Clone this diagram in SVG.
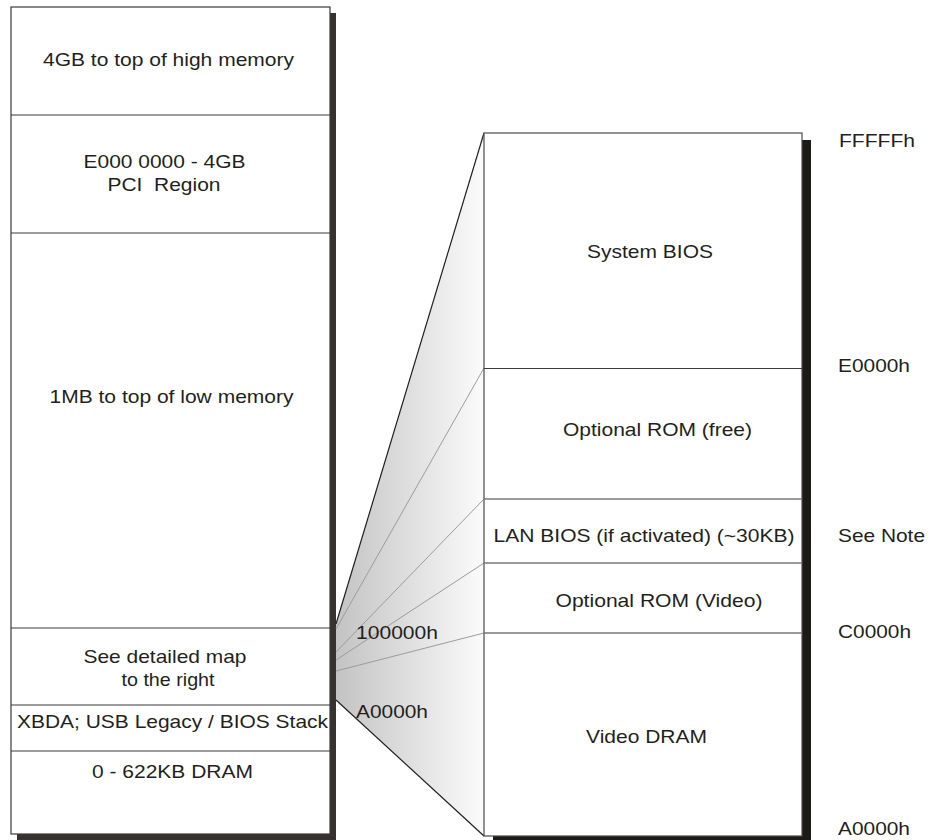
<svg xmlns="http://www.w3.org/2000/svg" width="929" height="840" viewBox="0 0 929 840">
<style>
text{font-family:"Liberation Sans",Arial,sans-serif;font-size:18.5px;fill:#231f20}
.c{text-anchor:middle}
.div{stroke:#3a3a3a;stroke-width:1.2}
.rdiv{stroke:#7a7a7a;stroke-width:1.5}
.fan{stroke:#9c9c9c;stroke-width:1;fill:none}
.edge{stroke:#231f20;stroke-width:1.2;fill:none}
</style>
<defs>
<linearGradient id="fg" x1="336" y1="0" x2="484" y2="0" gradientUnits="userSpaceOnUse">
<stop offset="0" stop-color="#c3c3c3"/>
<stop offset="1" stop-color="#fbfbfb"/>
</linearGradient>
</defs>
<rect width="929" height="840" fill="#fff"/>

<g id="left-map">
<rect x="17" y="13" width="319" height="827" fill="#37322f"/>
<rect x="11" y="7" width="319" height="827" fill="#fff" stroke="#3a3a3a" stroke-width="1.2"/>
</g>
<g id="high-memory">
<text class="c" x="168.5" y="66" textLength="251" lengthAdjust="spacingAndGlyphs">4GB to top of high memory</text>
<line class="div" x1="11" y1="115" x2="330" y2="115"/>
</g>
<g id="pci-region">
<text class="c" x="164.5" y="168" textLength="162" lengthAdjust="spacingAndGlyphs">E000 0000 - 4GB</text>
<text class="c" x="164" y="191" textLength="113" lengthAdjust="spacingAndGlyphs" xml:space="preserve">PCI  Region</text>
<line class="div" x1="11" y1="233" x2="330" y2="233"/>
</g>
<g id="low-memory">
<text class="c" x="171.5" y="403" textLength="244" lengthAdjust="spacingAndGlyphs">1MB to top of low memory</text>
<line class="div" x1="11" y1="628" x2="330" y2="628"/>
</g>
<g id="detailed-map">
<text class="c" x="165" y="663" textLength="163" lengthAdjust="spacingAndGlyphs">See detailed map</text>
<text class="c" x="168" y="686" textLength="93" lengthAdjust="spacingAndGlyphs">to the right</text>
<line class="div" x1="11" y1="705" x2="330" y2="705"/>
</g>
<g id="xbda">
<text x="17" y="728" textLength="311" lengthAdjust="spacingAndGlyphs">XBDA; USB Legacy / BIOS Stack</text>
<line class="div" x1="11" y1="751" x2="330" y2="751"/>
</g>
<g id="dram">
<text class="c" x="172.5" y="778" textLength="161" lengthAdjust="spacingAndGlyphs">0 - 622KB DRAM</text>
</g>

<g id="connectors">
<polygon points="336,624 484,133 484,836 336,700" fill="url(#fg)"/>
<line class="fan" x1="336" y1="629" x2="484" y2="368"/>
<line class="fan" x1="336" y1="652" x2="484" y2="499"/>
<line class="fan" x1="336" y1="660" x2="484" y2="563"/>
<line class="fan" x1="336" y1="671" x2="484" y2="633"/>
<line class="edge" x1="336" y1="624" x2="484" y2="133"/>
<line class="edge" x1="336" y1="700" x2="484" y2="836"/>
<text x="356" y="639" textLength="82" lengthAdjust="spacingAndGlyphs">100000h</text>
<text x="356" y="718" textLength="72" lengthAdjust="spacingAndGlyphs">A0000h</text>
</g>

<g id="right-map">
<rect x="493" y="140" width="318" height="703" fill="#1c1a17"/>
<rect x="484" y="133" width="318" height="703" fill="#fff" stroke="#4a4a4a" stroke-width="1.2"/>
</g>
<g id="system-bios">
<text class="c" x="650" y="258" textLength="126" lengthAdjust="spacingAndGlyphs">System BIOS</text>
<line class="div" x1="484" y1="368.5" x2="802" y2="368.5"/>
</g>
<g id="optional-rom-free">
<text class="c" x="657.5" y="436" textLength="189" lengthAdjust="spacingAndGlyphs">Optional ROM (free)</text>
<line class="rdiv" x1="484" y1="499" x2="802" y2="499"/>
</g>
<g id="lan-bios">
<text class="c" x="644" y="542" textLength="301" lengthAdjust="spacingAndGlyphs">LAN BIOS (if activated) (~30KB)</text>
<line class="rdiv" x1="484" y1="563" x2="802" y2="563"/>
</g>
<g id="optional-rom-video">
<text class="c" x="659" y="607" textLength="207" lengthAdjust="spacingAndGlyphs">Optional ROM (Video)</text>
<line class="rdiv" x1="484" y1="633" x2="802" y2="633"/>
</g>
<g id="video-dram">
<text class="c" x="646.5" y="743" textLength="121" lengthAdjust="spacingAndGlyphs">Video DRAM</text>
</g>

<g id="addresses">
<text x="839" y="147" textLength="76" lengthAdjust="spacingAndGlyphs">FFFFFh</text>
<text x="838" y="372" textLength="72" lengthAdjust="spacingAndGlyphs">E0000h</text>
<text x="838" y="542" textLength="87" lengthAdjust="spacingAndGlyphs">See Note</text>
<text x="838" y="638" textLength="73" lengthAdjust="spacingAndGlyphs">C0000h</text>
<text x="838" y="835" textLength="72" lengthAdjust="spacingAndGlyphs">A0000h</text>
</g>
</svg>
